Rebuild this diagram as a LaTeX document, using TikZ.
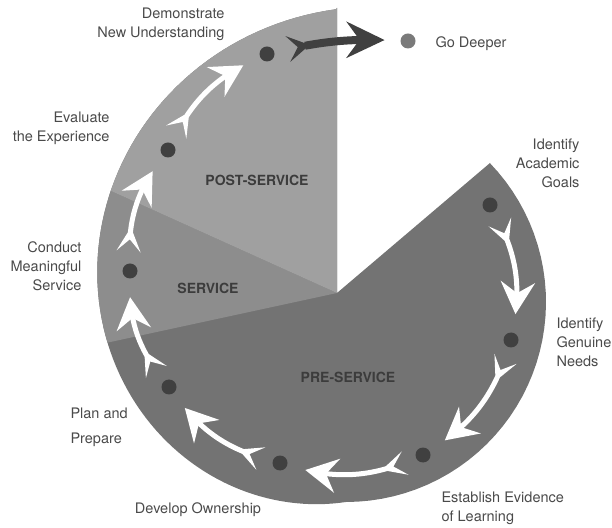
\documentclass[tikz,border=0pt]{standalone}
\usepackage{fontspec}
\setmainfont{TeX Gyre Heros}
\usetikzlibrary{arrows.meta,bending}
\definecolor{pregray}{HTML}{737373}
\definecolor{servgray}{HTML}{8D8D8D}
\definecolor{postgray}{HTML}{A0A0A0}
\definecolor{dotgray}{HTML}{404040}
\definecolor{deepgray}{HTML}{7A7A7A}
\definecolor{txtgray}{HTML}{4A4A4A}
\definecolor{phasetxt}{HTML}{3C3C3C}
\tikzset{
	dot/.style={circle,fill=dotgray,inner sep=0pt,minimum size=15pt},
	steplabel/.style={text=txtgray,font=\fontsize{14.5}{19}\selectfont},
	phase/.style={text=phasetxt,font=\fontsize{14}{16}\selectfont\bfseries},
	flowtips/.style={arrows={Stealth[reversed,length=24pt,width=24pt,inset=12pt]-Stealth[length=32pt,width=34pt,inset=11pt]}},
	flow/.style={draw=white,line width=5pt,shorten <=13pt,shorten >=19pt,flowtips},
	godeeper/.style={draw=dotgray,line width=8pt,shorten <=15pt,shorten >=16pt,
		arrows={Stealth[reversed,length=22pt,width=26pt,inset=10pt]-Stealth[length=38pt,width=36pt,inset=13pt]}},
}
\begin{document}
\begin{tikzpicture}[x=1pt,y=1pt]
	\useasboundingbox (0,0) rectangle (612,527);
	\coordinate (O) at (337,234);
	\coordinate (tip) at (490,364);
	\coordinate (top) at (337,519);
	% spiral outline, three phases
	\begin{scope}
		\clip (O) -- (tip) -- plot[domain=44:-90,samples=40] ({346+200*cos(\x)},{225+200*sin(\x)})
			-- plot[domain=-90:-268,samples=90] ({346+(200+0.522*(-90-\x))*cos(\x)},{225+(200+0.522*(-90-\x))*sin(\x)})
			-- (top) -- cycle;
		\fill[pregray] (0,0) rectangle (612,527);
		\fill[servgray] (O) -- +(192.2:400) -- +(155.7:400) -- cycle;
		\fill[postgray] (O) -- +(155.7:400) -- +(90:400) -- cycle;
	\end{scope}
	\node[phase] (posttxt) at (257,347) {POST-SERVICE};
	\node[phase] (servtxt) at (208,239) {SERVICE};
	\node[phase] (pretxt) at (348,150) {PRE-SERVICE};
	% steps
	\node[dot] (acad) at (490,322) {};
	\node[dot] (needs) at (511,187) {};
	\node[dot] (evid) at (423,72) {};
	\node[dot] (own) at (280,64) {};
	\node[dot] (plan) at (169,140) {};
	\node[dot] (serv) at (130,256) {};
	\node[dot] (eval) at (168,377) {};
	\node[dot] (demo) at (267,473) {};
	\node[dot,fill=deepgray] (deep) at (408,486) {};
	\draw[flow] (acad) to[bend left=20] (needs);
	\draw[flow] (needs) to[bend left=20] (evid);
	\draw[flow] (evid) to[bend left=20] (own);
	\draw[flow] (own) to[bend left=20] (plan);
	\draw[flow] (plan) to[bend left=20] (serv);
	\draw[flow] (serv) to[bend left=20] (eval);
	\draw[flow] (eval) to[bend left=20] (demo);
	\draw[godeeper] (demo) to[bend left=8] (deep);
	% labels
	\node[steplabel,anchor=east,align=right] (acadtxt) at (583,364) {Identify\\Academic\\Goals};
	\node[steplabel,anchor=west,align=left] (needstxt) at (553,185) {Identify\\Genuine\\Needs};
	\node[steplabel,anchor=west,align=left] (evidtxt) at (438,19) {Establish Evidence\\of Learning};
	\node[steplabel] (owntxt) at (198,17) {Develop Ownership};
	\node[steplabel,anchor=west,align=left] (plantxt) at (67,100) {Plan and\\[6pt]Prepare};
	\node[steplabel,anchor=east,align=right] (servlbl) at (85,261) {Conduct\\Meaningful\\Service};
	\node[steplabel,anchor=east,align=right] (evaltxt) at (113,399) {Evaluate\\the Experience};
	\node[steplabel,anchor=east,align=right] (demotxt) at (228,503) {Demonstrate\\New Understanding};
	\node[steplabel,anchor=west] (deeptxt) at (432,483) {Go Deeper};
\end{tikzpicture}
\end{document}
